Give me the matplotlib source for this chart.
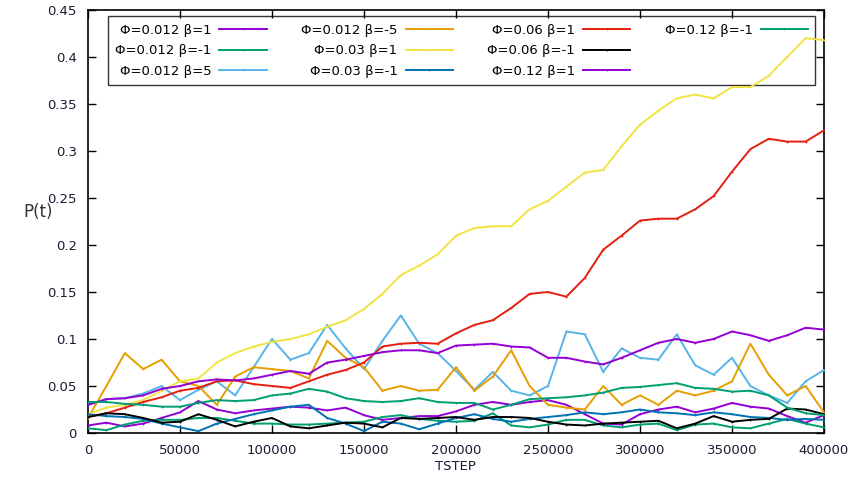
import matplotlib.pyplot as plt
from matplotlib.lines import Line2D
from matplotlib.ticker import MultipleLocator, FuncFormatter
import numpy as np

# time steps (every 10000)
tstep = np.arange(0, 400001, 10000)

p_012_b1 = [0.008, 0.011, 0.007, 0.010, 0.016, 0.022, 0.034, 0.025, 0.021, 0.024,
            0.026, 0.028, 0.027, 0.024, 0.027, 0.019, 0.014, 0.016, 0.018, 0.018,
            0.023, 0.030, 0.033, 0.030, 0.033, 0.035, 0.030, 0.020, 0.010, 0.009,
            0.020, 0.025, 0.028, 0.022, 0.026, 0.032, 0.028, 0.026, 0.018, 0.011, 0.019]
p_012_bm1 = [0.005, 0.003, 0.009, 0.013, 0.014, 0.014, 0.016, 0.016, 0.013, 0.010,
             0.010, 0.009, 0.009, 0.010, 0.011, 0.012, 0.017, 0.019, 0.015, 0.013,
             0.012, 0.013, 0.021, 0.008, 0.006, 0.009, 0.014, 0.014, 0.008, 0.006,
             0.009, 0.010, 0.003, 0.009, 0.010, 0.006, 0.005, 0.010, 0.015, 0.010, 0.006]
p_012_b5 = [0.030, 0.036, 0.037, 0.042, 0.050, 0.035, 0.046, 0.055, 0.040, 0.070,
            0.100, 0.078, 0.085, 0.115, 0.090, 0.068, 0.098, 0.125, 0.095, 0.085,
            0.066, 0.046, 0.065, 0.045, 0.040, 0.050, 0.108, 0.105, 0.065, 0.090,
            0.080, 0.078, 0.105, 0.072, 0.062, 0.080, 0.050, 0.040, 0.032, 0.055, 0.067]
p_012_bm5 = [0.016, 0.050, 0.085, 0.068, 0.078, 0.055, 0.050, 0.030, 0.060, 0.070,
             0.068, 0.066, 0.058, 0.098, 0.080, 0.070, 0.045, 0.050, 0.045, 0.046,
             0.070, 0.045, 0.060, 0.088, 0.050, 0.030, 0.027, 0.025, 0.050, 0.030,
             0.040, 0.030, 0.045, 0.040, 0.045, 0.055, 0.095, 0.062, 0.040, 0.050, 0.022]
p_03_b1 = [0.020, 0.027, 0.030, 0.035, 0.045, 0.055, 0.058, 0.075, 0.085, 0.092,
           0.097, 0.100, 0.105, 0.113, 0.120, 0.132, 0.148, 0.168, 0.178, 0.190,
           0.210, 0.218, 0.220, 0.220, 0.238, 0.247, 0.262, 0.277, 0.280, 0.305,
           0.328, 0.343, 0.356, 0.360, 0.356, 0.368, 0.368, 0.380, 0.400, 0.420, 0.418]
p_03_bm1 = [0.020, 0.018, 0.017, 0.015, 0.010, 0.006, 0.002, 0.010, 0.015, 0.020,
            0.024, 0.028, 0.030, 0.016, 0.010, 0.002, 0.012, 0.010, 0.004, 0.010,
            0.016, 0.020, 0.015, 0.012, 0.015, 0.017, 0.019, 0.022, 0.020, 0.022,
            0.025, 0.022, 0.021, 0.019, 0.022, 0.020, 0.017, 0.016, 0.014, 0.015, 0.014]
p_06_b1 = [0.017, 0.021, 0.027, 0.033, 0.038, 0.045, 0.048, 0.055, 0.056, 0.052,
           0.050, 0.048, 0.055, 0.062, 0.067, 0.075, 0.092, 0.095, 0.096, 0.095,
           0.106, 0.115, 0.120, 0.133, 0.148, 0.150, 0.145, 0.165, 0.195, 0.210,
           0.226, 0.228, 0.228, 0.238, 0.252, 0.278, 0.302, 0.313, 0.310, 0.310, 0.322]
p_06_bm1 = [0.017, 0.021, 0.020, 0.016, 0.011, 0.012, 0.020, 0.014, 0.007, 0.012,
            0.016, 0.007, 0.005, 0.008, 0.011, 0.010, 0.006, 0.016, 0.015, 0.016,
            0.017, 0.014, 0.017, 0.017, 0.016, 0.012, 0.009, 0.008, 0.010, 0.011,
            0.012, 0.013, 0.005, 0.010, 0.018, 0.012, 0.014, 0.015, 0.026, 0.025, 0.020]
p_12_b1 = [0.030, 0.036, 0.037, 0.040, 0.047, 0.050, 0.055, 0.057, 0.056, 0.058,
           0.062, 0.066, 0.063, 0.075, 0.078, 0.082, 0.086, 0.088, 0.088, 0.085,
           0.093, 0.094, 0.095, 0.092, 0.091, 0.080, 0.080, 0.076, 0.073, 0.080,
           0.088, 0.096, 0.100, 0.096, 0.100, 0.108, 0.104, 0.098, 0.104, 0.112, 0.110]
p_12_bm1 = [0.033, 0.033, 0.031, 0.030, 0.028, 0.028, 0.032, 0.035, 0.034, 0.035,
            0.040, 0.042, 0.047, 0.044, 0.037, 0.034, 0.033, 0.034, 0.037, 0.033,
            0.032, 0.032, 0.025, 0.030, 0.036, 0.037, 0.038, 0.040, 0.043, 0.048,
            0.049, 0.051, 0.053, 0.048, 0.047, 0.044, 0.045, 0.040, 0.027, 0.021, 0.019]

labels = ["Φ=0.012 β=1", "Φ=0.012 β=-1", "Φ=0.012 β=5", "Φ=0.012 β=-5",
          "Φ=0.03 β=1", "Φ=0.03 β=-1", "Φ=0.06 β=1", "Φ=0.06 β=-1",
          "Φ=0.12 β=1", "Φ=0.12 β=-1"]
series = [p_012_b1, p_012_bm1, p_012_b5, p_012_bm5, p_03_b1,
          p_03_bm1, p_06_b1, p_06_bm1, p_12_b1, p_12_bm1]
colors = ["#9400d3", "#009e73", "#56b4e9", "#e69f00", "#f0e442",
          "#0072b2", "#e51e10", "#000000", "#9400d3", "#009e73"]

fig = plt.figure(figsize=(8.54, 4.97), dpi=100)
ax = fig.add_axes([88 / 854, 1 - 433 / 497, 736 / 854, 423 / 497])

handles = []
for y, lab, c in zip(series, labels, colors):
    h, = ax.plot(tstep, y, color=c, lw=1.4, marker="+", markersize=1.5,
                 markeredgewidth=0.6, label=lab, zorder=3)
    handles.append(h)

ax.set_xlim(0, 400000)
ax.set_ylim(0, 0.45)
ax.xaxis.set_major_locator(MultipleLocator(50000))
ax.yaxis.set_major_locator(MultipleLocator(0.05))
ax.yaxis.set_major_formatter(FuncFormatter(lambda v, p: "%g" % round(v, 2)))
ax.tick_params(direction="in", length=6, width=1, top=True, right=True,
               labelsize=9.5, labelcolor="#1a1a33", pad=8)
for s in ax.spines.values():
    s.set_linewidth(1.2)

# 3,3,3,1 layout: pad the last column with blanks; key is see-through like gnuplot
blank = Line2D([], [], linestyle="none")
leg = ax.legend(handles + [blank, blank], labels + [" ", " "], ncol=4,
                loc="upper left", bbox_to_anchor=(0.027, 0.985), borderaxespad=0,
                markerfirst=False, fontsize=9.5, handlelength=3.6,
                handletextpad=0.6, columnspacing=2.6, labelspacing=0.58,
                fancybox=False, facecolor="none", framealpha=None,
                edgecolor="black", borderpad=0.55)
leg.get_frame().set_linewidth(1.0)
leg.set_zorder(2)

fig.text(38 / 854, 1 - 212 / 497, "P(t)", fontsize=12, color="#333333",
         ha="center", va="center")
fig.text(455 / 854, 1 - 466 / 497, "TSTEP", fontsize=9.5, color="#1a1a33",
         ha="center", va="center")

fig.savefig("out.png", dpi=100)
